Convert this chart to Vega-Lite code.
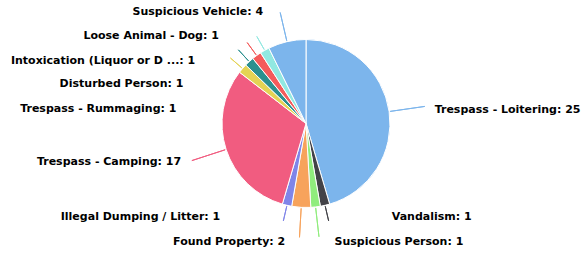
{
  "$schema": "https://vega.github.io/schema/vega-lite/v6.json",
  "width": 558,
  "height": 247,
  "autosize": {"type": "none"},
  "padding": {"left": 27, "top": 0, "right": 0, "bottom": 6},
  "background": "white",
  "config": {"view": {"stroke": null}},
  "data": {"values": [
    {"idx": 1, "category": "Trespass - Loitering", "count": 25, "label": "Trespass - Loitering: 25"},
    {"idx": 2, "category": "Vandalism", "count": 1, "label": "Vandalism: 1"},
    {"idx": 3, "category": "Suspicious Person", "count": 1, "label": "Suspicious Person: 1"},
    {"idx": 4, "category": "Found Property", "count": 2, "label": "Found Property: 2"},
    {"idx": 5, "category": "Illegal Dumping / Litter", "count": 1, "label": "Illegal Dumping / Litter: 1"},
    {"idx": 6, "category": "Trespass - Camping", "count": 17, "label": "Trespass - Camping: 17"},
    {"idx": 7, "category": "Trespass - Rummaging", "count": 1, "label": "Trespass - Rummaging: 1"},
    {"idx": 8, "category": "Disturbed Person", "count": 1, "label": "Disturbed Person: 1"},
    {"idx": 9, "category": "Intoxication (Liquor or Drugs)", "count": 1, "label": "Intoxication (Liquor or D ...: 1"},
    {"idx": 10, "category": "Loose Animal - Dog", "count": 1, "label": "Loose Animal - Dog: 1"},
    {"idx": 11, "category": "Suspicious Vehicle", "count": 4, "label": "Suspicious Vehicle: 4"}
  ]},
  "encoding": {
    "theta": {"field": "count", "type": "quantitative", "stack": true},
    "order": {"field": "idx", "type": "quantitative"}
  },
  "layer": [
    {
      "mark": {"type": "arc", "radius": 84, "stroke": "white", "strokeWidth": 1},
      "encoding": {
        "color": {"field": "category", "type": "nominal", "legend": null,
          "scale": {"domain": ["Trespass - Loitering", "Vandalism", "Suspicious Person", "Found Property", "Illegal Dumping / Litter", "Trespass - Camping", "Trespass - Rummaging", "Disturbed Person", "Intoxication (Liquor or Drugs)", "Loose Animal - Dog", "Suspicious Vehicle"],
            "range": ["#7cb5ec", "#434348", "#90ed7d", "#f7a35c", "#8085e9", "#f15c80", "#e4d354", "#2b908f", "#f45b5b", "#91e8e1", "#7cb5ec"]}}
      }
    },
    {
      "mark": {"type": "arc", "radius": 120, "radius2": 85, "padAngle": 3, "filled": false, "strokeWidth": 1},
      "encoding": {
        "color": {"field": "category", "type": "nominal", "legend": null},
        "strokeOpacity": {"condition": {"test": {"field": "category", "oneOf": ["Trespass - Loitering", "Trespass - Camping"]}, "value": 1}, "value": 0}
      }
    },
    {
      "mark": {"type": "arc", "radius": 114, "radius2": 85, "padAngle": 3, "filled": false, "strokeWidth": 1},
      "encoding": {
        "color": {"field": "category", "type": "nominal", "legend": null},
        "strokeOpacity": {"condition": {"test": {"field": "category", "oneOf": ["Suspicious Person", "Found Property", "Suspicious Vehicle"]}, "value": 1}, "value": 0}
      }
    },
    {
      "mark": {"type": "arc", "radius": 100, "radius2": 85, "padAngle": 3, "filled": false, "strokeWidth": 1},
      "encoding": {
        "color": {"field": "category", "type": "nominal", "legend": null},
        "strokeOpacity": {"condition": {"test": {"field": "category", "oneOf": ["Vandalism", "Illegal Dumping / Litter", "Trespass - Rummaging", "Disturbed Person", "Intoxication (Liquor or Drugs)", "Loose Animal - Dog"]}, "value": 1}, "value": 0}
      }
    },
    {"mark": {"type": "text", "radius": 130, "dx": 0, "dy": 5, "align": "left", "baseline": "middle", "font": "DejaVu Sans", "fontWeight": "bold", "fontSize": 11, "color": "#000000"},
     "encoding": {"text": {"condition": {"test": "datum.category === 'Trespass - Loitering'", "field": "label"}, "value": ""}}},
    {"mark": {"type": "text", "radius": 96, "dx": 64, "dy": 0, "align": "left", "baseline": "middle", "font": "DejaVu Sans", "fontWeight": "bold", "fontSize": 11, "color": "#000000"},
     "encoding": {"text": {"condition": {"test": "datum.category === 'Vandalism'", "field": "label"}, "value": ""}}},
    {"mark": {"type": "text", "radius": 119, "dx": 15, "dy": 0, "align": "left", "baseline": "middle", "font": "DejaVu Sans", "fontWeight": "bold", "fontSize": 11, "color": "#000000"},
     "encoding": {"text": {"condition": {"test": "datum.category === 'Suspicious Person'", "field": "label"}, "value": ""}}},
    {"mark": {"type": "text", "radius": 119, "dx": -14, "dy": 0, "align": "right", "baseline": "middle", "font": "DejaVu Sans", "fontWeight": "bold", "fontSize": 11, "color": "#000000"},
     "encoding": {"text": {"condition": {"test": "datum.category === 'Found Property'", "field": "label"}, "value": ""}}},
    {"mark": {"type": "text", "radius": 96, "dx": -64, "dy": 0, "align": "right", "baseline": "middle", "font": "DejaVu Sans", "fontWeight": "bold", "fontSize": 11, "color": "#000000"},
     "encoding": {"text": {"condition": {"test": "datum.category === 'Illegal Dumping / Litter'", "field": "label"}, "value": ""}}},
    {"mark": {"type": "text", "radius": 125, "dx": -6, "dy": 0, "align": "right", "baseline": "middle", "font": "DejaVu Sans", "fontWeight": "bold", "fontSize": 11, "color": "#000000"},
     "encoding": {"text": {"condition": {"test": "datum.category === 'Trespass - Camping'", "field": "label"}, "value": ""}}},
    {"mark": {"type": "text", "radius": 100, "dx": -54, "dy": 51, "align": "right", "baseline": "middle", "font": "DejaVu Sans", "fontWeight": "bold", "fontSize": 11, "color": "#000000"},
     "encoding": {"text": {"condition": {"test": "datum.category === 'Trespass - Rummaging'", "field": "label"}, "value": ""}}},
    {"mark": {"type": "text", "radius": 100, "dx": -55, "dy": 34, "align": "right", "baseline": "middle", "font": "DejaVu Sans", "fontWeight": "bold", "fontSize": 11, "color": "#000000"},
     "encoding": {"text": {"condition": {"test": "datum.category === 'Disturbed Person'", "field": "label"}, "value": ""}}},
    {"mark": {"type": "text", "radius": 100, "dx": -52, "dy": 18, "align": "right", "baseline": "middle", "font": "DejaVu Sans", "fontWeight": "bold", "fontSize": 11, "color": "#000000"},
     "encoding": {"text": {"condition": {"test": "datum.category === 'Intoxication (Liquor or Drugs)'", "field": "label"}, "value": ""}}},
    {"mark": {"type": "text", "radius": 100, "dx": -38, "dy": 0, "align": "right", "baseline": "middle", "font": "DejaVu Sans", "fontWeight": "bold", "fontSize": 11, "color": "#000000"},
     "encoding": {"text": {"condition": {"test": "datum.category === 'Loose Animal - Dog'", "field": "label"}, "value": ""}}},
    {"mark": {"type": "text", "radius": 114, "dx": -17, "dy": 0, "align": "right", "baseline": "middle", "font": "DejaVu Sans", "fontWeight": "bold", "fontSize": 11, "color": "#000000"},
     "encoding": {"text": {"condition": {"test": "datum.category === 'Suspicious Vehicle'", "field": "label"}, "value": ""}}}
  ]
}
